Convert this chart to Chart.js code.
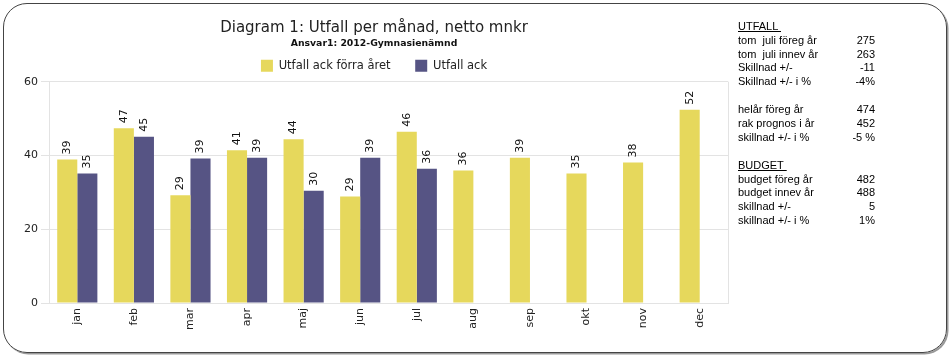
<!DOCTYPE html>
<html>
<head>
<meta charset="utf-8">
<script src="https://cdn.jsdelivr.net/npm/chart.js@4/dist/chart.umd.min.js"></script>
<style>
  body { margin: 0; background: #fff; }
  #frame {
    position: absolute; left: 3px; top: 3px; width: 942px; height: 348px;
    border: 1px solid #444; border-radius: 24px;
    box-shadow: 1.5px 1.5px 0 #999;
  }
  #wrap { position: absolute; left: 0; top: 0; width: 748px; height: 358px; }
  #side {
    position: absolute; left: 738px; top: 19.75px; width: 137px;
    font-family: 'Liberation Sans', Arial, sans-serif; font-size: 11px; color: #000;
    line-height: 13.9px;
  }
  #side .row { display: flex; justify-content: space-between; height: 13.9px; white-space: pre; }
  #side .head { text-decoration: underline; white-space: pre; height: 13.9px; }
  #side .gap { height: 13.9px; }
</style>
</head>
<body>
<div id="frame"></div>
<div id="wrap"><canvas id="chart1"></canvas></div>
<div id="side"></div>
<script>
(function(){
  'use strict';

  var months = ['jan', 'feb', 'mar', 'apr', 'maj', 'jun', 'jul', 'aug', 'sep', 'okt', 'nov', 'dec'];
  var prevYear = [38.9, 47.4, 29.2, 41.4, 44.4, 28.9, 46.4, 35.9, 39.4, 35.1, 38.1, 52.4];
  var thisYear = [35.1, 45.1, 39.2, 39.4, 30.4, 39.4, 36.4, null, null, null, null, null];
  var yTicks = [0, 20, 40, 60];

  var utfallLabels = ['tom  juli föreg år', 'tom  juli innev år', 'Skillnad +/-', 'Skillnad +/- i %'];
  var utfallValues = ['275', '263', '-11', '-4%'];
  var helarLabels = ['helår föreg år', 'rak prognos i år', 'skillnad +/- i %'];
  var helarValues = ['474', '452', '-5 %'];
  var budgetLabels = ['budget föreg år', 'budget innev år', 'skillnad +/-', 'skillnad +/- i %'];
  var budgetValues = ['482', '488', '5', '1%'];

  var font = "'DejaVu Sans', Verdana, sans-serif";

  // rotated value labels above each bar
  var barLabels = {
    id: 'barLabels',
    afterDatasetsDraw: function(chart) {
      var ctx = chart.ctx;
      ctx.save();
      ctx.font = '11px ' + font;
      ctx.fillStyle = '#111';
      ctx.textAlign = 'left';
      ctx.textBaseline = 'middle';
      chart.data.datasets.forEach(function(ds, di) {
        var meta = chart.getDatasetMeta(di);
        meta.data.forEach(function(bar, i) {
          var v = ds.data[i];
          if (v === null || v === undefined) return;
          ctx.save();
          ctx.translate(bar.x, bar.y - 5);
          ctx.rotate(-Math.PI / 2);
          ctx.fillText(String(Math.round(v)), 0, 0);
          ctx.restore();
        });
      });
      ctx.restore();
    }
  };

  // right edge of the plot area
  var rightEdge = {
    id: 'rightEdge',
    afterDraw: function(chart) {
      var a = chart.chartArea;
      var ctx = chart.ctx;
      ctx.save();
      ctx.strokeStyle = '#e3e3e3';
      ctx.lineWidth = 1;
      ctx.beginPath();
      ctx.moveTo(Math.round(a.right) + 0.5, a.top);
      ctx.lineTo(Math.round(a.right) + 0.5, a.bottom);
      ctx.stroke();
      ctx.restore();
    }
  };

  initSide();
  initChart();

  function initSide() {
    var side = document.getElementById('side');
    var html = '<div class="head">UTFALL </div>';
    html += rows(utfallLabels, utfallValues);
    html += '<div class="gap"></div>';
    html += rows(helarLabels, helarValues);
    html += '<div class="gap"></div>';
    html += '<div class="head">BUDGET </div>';
    html += rows(budgetLabels, budgetValues);
    side.innerHTML = html;
  }

  function rows(labels, values) {
    var out = '';
    for (var i = 0; i < labels.length; i++) {
      out += '<div class="row"><span>' + labels[i] + '</span><span>' + values[i] + '</span></div>';
    }
    return out;
  }

  function initChart() {
    var c1 = document.getElementById('chart1');

    var chart1 = new Chart(c1, {
      type: 'bar',
      data: {
        labels: months,
        datasets: [{
          label: 'Utfall ack förra året',
          data: prevYear,
          backgroundColor: '#e6d85c'
        }, {
          label: 'Utfall ack',
          data: thisYear,
          backgroundColor: '#565484'
        }]
      },
      options: {
        responsive: true,
        maintainAspectRatio: false,
        animation: false,
        layout: { padding: 0 },
        datasets: {
          bar: { categoryPercentage: 0.71, barPercentage: 1.0 }
        },
        plugins: {
          title: {
            display: true,
            text: 'Diagram 1: Utfall per månad, netto mnkr',
            color: '#222',
            font: { family: font, size: 15, weight: 'normal' },
            padding: { top: 19, bottom: 1.5 }
          },
          subtitle: {
            display: true,
            text: 'Ansvar1: 2012-Gymnasienämnd',
            color: '#111',
            font: { family: font, size: 9.3, weight: 'bold' },
            padding: { top: 0, bottom: 0 }
          },
          legend: {
            display: true,
            position: 'top',
            labels: {
              color: '#222',
              boxWidth: 12,
              boxHeight: 12,
              padding: 10,
              font: { family: font, size: 11.5 },
              generateLabels: function(chart) {
                var items = Chart.defaults.plugins.legend.labels.generateLabels(chart);
                // wider gap after the first entry
                items[0].text = items[0].text + '    ';
                return items;
              }
            }
          },
          tooltip: { enabled: false }
        },
        scales: {
          x: {
            grid: { display: false, drawTicks: false },
            border: { display: true, color: '#e3e3e3' },
            ticks: {
              color: '#222',
              font: { family: font, size: 11 },
              minRotation: 90,
              maxRotation: 90,
              padding: 5
            },
            afterFit: function(s) { s.height = 55; }
          },
          y: {
            min: 0,
            max: 60,
            afterBuildTicks: function(s) {
              s.ticks = yTicks.map(function(v) { return { value: v }; });
            },
            grid: { color: '#e3e3e3', tickLength: 8 },
            border: { color: '#e3e3e3' },
            ticks: {
              color: '#222',
              font: { family: font, size: 11 },
              padding: 3
            },
            afterFit: function(s) { s.width = 49; }
          },
          // empty margin axis so the headings centre over the whole canvas
          yRight: {
            position: 'right',
            min: 0,
            max: 60,
            grid: { display: false, drawTicks: false },
            border: { display: false },
            ticks: { display: false },
            afterFit: function(s) { s.width = 20; }
          }
        }
      },
      plugins: [barLabels, rightEdge]
    });
  }

}());
</script>
</body>
</html>
